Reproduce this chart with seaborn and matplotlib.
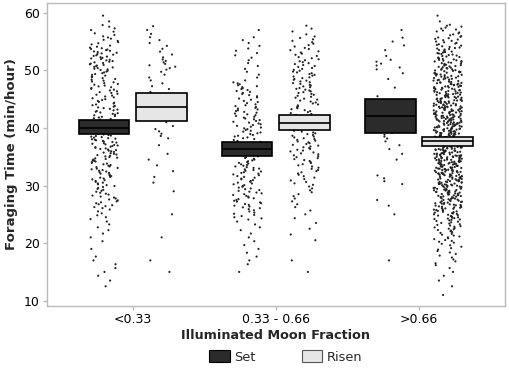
import numpy as np
import pandas as pd
import matplotlib.pyplot as plt
import seaborn as sns
from matplotlib.patches import Patch

fractions = ['<0.33', '0.33 - 0.66', '>0.66']
moon = ['Set', 'Risen']
bin_lo = np.arange(10, 60, 2)   # 2 min/hour bins: 10-12 ... 58-60

# points per bin
set_low    = [0,2,3,3,1,3,4,6,12,12,14,16,18,20,22,16,16,13,14,14,18,18,10,7,2]
risen_low  = [0,0,1,1,0,1,0,1,0,1,2,2,2,1,5,3,3,3,4,4,8,4,4,3,0]
set_mid    = [0,0,1,3,3,3,4,10,14,14,14,16,14,12,14,14,14,10,12,4,4,5,4,1,0]
risen_mid  = [0,0,1,1,0,2,2,3,4,6,8,10,12,14,14,8,12,12,14,14,12,10,8,4,0]
set_high   = [0,0,0,1,0,0,0,1,2,0,4,0,2,3,6,2,1,2,1,2,6,2,3,1,0]
risen_high = [1,2,3,6,8,13,18,27,34,40,45,47,50,50,50,47,45,41,36,32,28,23,17,12,2]

# crossbars (lower, middle, upper) per fraction
set_lo, set_md, set_hi = [38.9, 35.2, 39.1], [40.0, 36.3, 42.0], [41.3, 37.5, 45.0]
ris_lo, ris_md, ris_hi = [41.2, 39.6, 36.9], [43.6, 40.9, 37.7], [46.0, 42.3, 38.5]

counts = {('Set', 0): set_low, ('Risen', 0): risen_low,
          ('Set', 1): set_mid, ('Risen', 1): risen_mid,
          ('Set', 2): set_high, ('Risen', 2): risen_high}

rows = []
for (m, i), cnt in counts.items():
    for lo, n in zip(bin_lo, cnt):
        for k in range(n):
            rows.append((fractions[i], m, lo + 2 * (k + 0.5) / n))
pts = pd.DataFrame(rows, columns=['fraction', 'moon', 'time'])

brows = []
for m, (lo, md, hi) in {'Set': (set_lo, set_md, set_hi), 'Risen': (ris_lo, ris_md, ris_hi)}.items():
    for i, f in enumerate(fractions):
        for v in (lo[i], lo[i], md[i], hi[i], hi[i]):
            brows.append((f, m, v))
bars = pd.DataFrame(brows, columns=['fraction', 'moon', 'time'])

sns.set_theme(style='white')
plt.rcParams['font.family'] = ['DejaVu Sans']
np.random.seed(3)

fig = plt.figure(figsize=(5.1, 3.69), dpi=100)
ax = fig.add_axes([0.092, 0.171, 0.898, 0.821])

sns.stripplot(data=pts, x='fraction', y='time', hue='moon', order=fractions,
              hue_order=moon, dodge=True, jitter=0.2, size=1.55, linewidth=0,
              palette={'Set': '#222222', 'Risen': '#222222'}, legend=False, ax=ax)
sns.boxplot(data=bars, x='fraction', y='time', hue='moon', order=fractions,
            hue_order=moon, dodge=True, width=0.8, gap=0.12, whis=0,
            showcaps=False, showfliers=False, saturation=1,
            palette={'Set': '#2b2b2b', 'Risen': '#e6e6e6'},
            linecolor='black', linewidth=1.2, legend=False, ax=ax)
for c in ax.collections:
    c.set_zorder(1)
for p in ax.patches:
    p.set_zorder(3)
for l in ax.lines:
    l.set_zorder(4)

ax.set_xlim(-0.6, 2.6)
ax.set_ylim(9.1, 61.7)
ax.set_yticks([10, 20, 30, 40, 50, 60])
for s in ax.spines.values():
    s.set_color('#bbbbbb')
    s.set_linewidth(1)
ax.tick_params(axis='both', length=3, width=1, color='#bbbbbb', labelsize=9,
               labelcolor='black', pad=2, left=True, bottom=True)
ax.set_xlabel('Illuminated Moon Fraction', fontsize=9.2, fontweight='bold', labelpad=2)
ax.set_ylabel('Foraging Time (min/hour)', fontsize=9.5, fontweight='bold', labelpad=4)

handles = [Patch(facecolor='#2b2b2b', edgecolor='black', linewidth=0.8),
           Patch(facecolor='#e6e6e6', edgecolor='#555555', linewidth=0.8)]
fig.legend(handles, moon, loc='center', bbox_to_anchor=(0.56, 0.033), ncol=2,
           frameon=False, handlelength=1.6, handleheight=1.1, handletextpad=0.3,
           columnspacing=3.6, fontsize=9.3)

fig.savefig('out.png', dpi=100)
